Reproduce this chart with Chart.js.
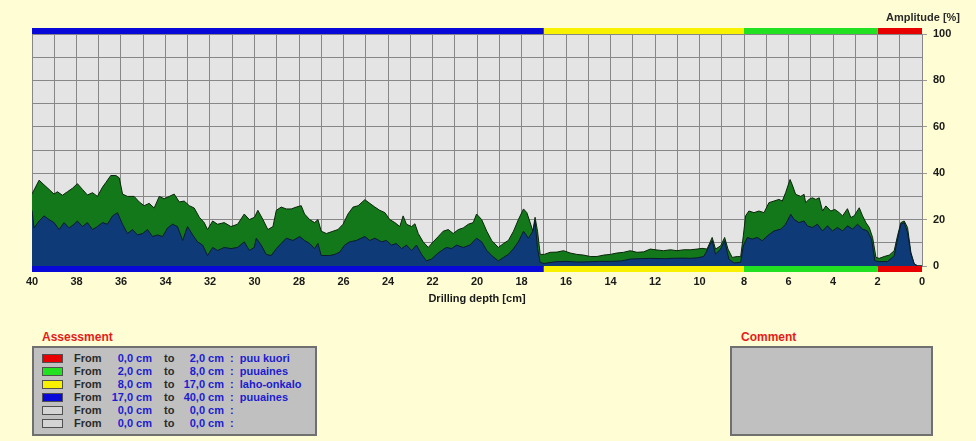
<!DOCTYPE html>
<html>
<head>
<meta charset="utf-8">
<script src="https://cdn.jsdelivr.net/npm/chart.js@4.4.0/dist/chart.umd.min.js"></script>
<style>
  body { margin: 0; background: #fffdd3; font-family: "Liberation Sans", Arial, sans-serif; }
  #wrap { position: relative; width: 976px; height: 441px; overflow: hidden; }
  #chart { position: absolute; left: 0; top: 0; }
  .txt { position: absolute; font-weight: bold; font-size: 11px; line-height: 13px; white-space: nowrap; }
  .head { position: absolute; color: #e51b1b; font-weight: bold; font-size: 12px; line-height: 14px; }
  .box { position: absolute; background: #c0c0c0; border: 2px solid #707070; box-sizing: border-box; }
  .sw { position: absolute; width: 21px; height: 9px; border: 1px solid #505050; box-sizing: border-box; }
  .num { color: #1c1ccf; text-align: right; }
  .dark { color: #2a2a2a; }
</style>
</head>
<body>
<div id="wrap">
  <canvas id="chart" width="976" height="316"></canvas>
  <div class="txt dark" style="left:860px; top:11px; width:100px; text-align:right;">Amplitude [%]</div>
  <div class="head" style="left:42px; top:330px;">Assessment</div>
  <div class="box" style="left:32px; top:346px; width:285px; height:90px;"></div>
  <div id="rows"></div>
  <div class="head" style="left:741px; top:330px;">Comment</div>
  <div class="box" style="left:730px; top:346px; width:203px; height:90px;"></div>
</div>
<script>
// Green curve (upper amplitude)
const greenDepth = [40, 39.68, 39.46, 39.23, 39.01, 38.86, 38.63, 38.41, 38.18, 37.96, 37.73, 37.51, 37.28, 37.06, 36.83, 36.68, 36.46, 36.23, 36.08, 35.93,
    35.71, 35.41, 35.18, 34.96, 34.73, 34.51, 34.28, 34.06, 33.83, 33.61, 33.38, 33.16, 32.93, 32.71, 32.48, 32.26, 32.11, 31.88, 31.66, 31.36,
    31.06, 30.76, 30.46, 30.23, 30.0, 29.85, 29.62, 29.40, 29.17, 29.02, 28.80, 28.57, 28.35, 28.12, 27.90, 27.75, 27.52, 27.30, 27.15, 27.0,
    26.77, 26.47, 26.25, 26.02, 25.80, 25.57, 25.34, 25.04, 24.82, 24.59, 24.37, 24.14, 23.92, 23.69, 23.47, 23.32, 23.17, 22.94, 22.79, 22.64,
    22.42, 22.19, 21.97, 21.74, 21.52, 21.29, 21.07, 20.84, 20.62, 20.39, 20.17, 20.02, 19.79, 19.56, 19.34, 19.04, 18.81, 18.59, 18.36, 18.14,
    17.91, 17.76, 17.61, 17.49, 17.39, 17.28, 17.16, 16.98, 16.71, 16.41, 16.11, 15.81, 15.51, 15.21, 14.91, 14.61, 14.31, 14.01, 13.71, 13.41,
    13.11, 12.81, 12.51, 12.21, 11.91, 11.61, 11.31, 11.01, 10.71, 10.41, 10.11, 9.88, 9.66, 9.43, 9.28, 9.05, 8.87, 8.72, 8.53, 8.30,
    8.15, 8.03, 7.93, 7.78, 7.55, 7.33, 7.10, 6.88, 6.65, 6.43, 6.28, 6.13, 5.93, 5.83, 5.68, 5.45, 5.30, 5.23, 5.08, 4.93,
    4.77, 4.62, 4.47, 4.32, 4.10, 3.92, 3.72, 3.57, 3.35, 3.20, 3.05, 2.82, 2.67, 2.52, 2.37, 2.22, 2.07, 1.92, 1.70, 1.47,
    1.25, 1.10, 0.95, 0.80, 0.65, 0.50, 0.35, 0.20, 0];
const greenAmp = [31, 37, 35, 33, 31, 32, 30.5, 32, 33.5, 35.5, 33, 30.6, 31.6, 30, 34, 36, 39, 39, 38, 31,
    30, 30, 27.6, 26, 27, 25, 30, 29, 30, 31, 27.6, 28, 26, 25, 21, 18.7, 15.7, 19.4, 18, 18.7,
    17, 18, 22.4, 20, 21, 24, 20, 15.7, 17, 24, 25.4, 24.6, 24.6, 25.4, 26, 22.4, 20, 18.7, 20, 15,
    14, 15, 15.7, 18, 22.4, 25.4, 26, 28.6, 27, 25.4, 24, 23, 20, 18.7, 17, 21.6, 18, 17, 18.2, 14,
    10.4, 8, 10.4, 12.7, 15, 15.7, 14, 15.7, 16.4, 18, 18.7, 22.4, 20, 15, 11, 8, 9.7, 11, 15, 20,
    24.6, 23, 18.7, 15, 21, 15, 5, 5, 5.9, 6, 6.6, 5.6, 5, 4.7, 4.1, 4.1, 4.7, 5, 5.6, 5.9,
    6.6, 5.9, 6.1, 7.3, 6.9, 6.6, 7, 6.6, 7, 7, 7.3, 7.6, 7.3, 12.3, 7.3, 8.7, 12.3, 7.3, 3.7, 4.1,
    4, 13, 21.6, 23.7, 23, 23.7, 23, 27.3, 28, 28.7, 28, 31.6, 37.3, 35, 30.9, 30, 30.9, 27.3, 28.7, 29.4,
    28.7, 29.4, 23.7, 25.9, 23.7, 24.4, 23, 21.6, 24.7, 20.9, 21.6, 25.1, 21.6, 18.7, 16.6, 12.3, 3.7, 3.3, 4.1, 4.7,
    6.6, 13, 18.7, 19.4, 16.6, 5.9, 0.9, 0.1, 0];

// Blue curve (lower amplitude)
const blueDepth = [40, 39.91, 39.68, 39.46, 39.23, 39.01, 38.78, 38.56, 38.33, 38.11, 37.96, 37.73, 37.51, 37.28, 37.06, 36.83, 36.61, 36.38, 36.16, 35.93,
    35.71, 35.48, 35.26, 35.03, 34.81, 34.58, 34.36, 34.13, 33.91, 33.68, 33.46, 33.23, 33.01, 32.78, 32.56, 32.33, 32.11, 31.88, 31.66, 31.36,
    31.06, 30.76, 30.46, 30.23, 30.01, 29.92, 29.70, 29.47, 29.25, 29.02, 28.80, 28.57, 28.27, 27.97, 27.75, 27.52, 27.30, 27.15, 27.0, 26.62,
    26.39, 26.17, 25.95, 25.72, 25.42, 25.04, 24.82, 24.59, 24.29, 24.07, 23.84, 23.62, 23.39, 23.17, 22.94, 22.72, 22.49, 22.27, 22.04, 21.82,
    21.59, 21.37, 21.14, 20.92, 20.62, 20.32, 20.02, 19.79, 19.56, 19.34, 19.04, 18.81, 18.59, 18.36, 18.14, 17.91, 17.69, 17.49, 17.39, 17.28,
    17.16, 16.98, 16.5, 16.0, 15.5, 15.0, 14.5, 14.0, 13.5, 13.11, 12.5, 12.21, 11.5, 11.31, 10.71, 10.41, 10.11, 9.81, 9.43, 9.28,
    9.05, 8.87, 8.68, 8.45, 8.15, 8.03, 7.85, 7.63, 7.40, 7.18, 6.95, 6.65, 6.35, 6.13, 5.90, 5.75, 5.53, 5.30, 5.15, 4.93,
    4.70, 4.47, 4.25, 4.02, 3.80, 3.57, 3.35, 3.12, 2.90, 2.67, 2.45, 2.27, 2.12, 1.92, 1.55, 1.25, 1.10, 0.95, 0.80, 0.65,
    0.50, 0.35, 0.20, 0];
const blueAmp = [24, 16.4, 19.4, 21.6, 20, 18.7, 15.7, 18.7, 16.4, 18, 19.4, 17, 18.7, 15.7, 17, 18.7, 18, 21.6, 23, 18,
    14, 15.7, 13.4, 14, 15.7, 12.7, 13.4, 12.7, 16.4, 18, 17, 11, 17, 13.4, 10.4, 9, 4.5, 8, 6.7, 8,
    7.5, 8, 10.4, 6.7, 8, 12, 9, 5, 4.5, 7.5, 9.7, 12, 11, 12.7, 11, 9.7, 7.5, 9.7, 4.5, 4.5,
    5, 6, 9, 10.4, 11, 12.7, 11, 12, 10.4, 11, 9, 9.7, 7.5, 9, 6.7, 9, 5, 2.2, 3, 5,
    6.7, 8, 7.5, 9, 8, 9, 12, 10.4, 6.7, 4.5, 2.2, 3.7, 5, 7.5, 10.4, 15, 12, 15, 19.4, 7.5,
    1.5, 1.1, 1.8, 2, 1.7, 1.8, 2, 2, 2.2, 3, 3.2, 3.3, 3.1, 3.3, 3.4, 3.3, 3.5, 4.1, 10.9, 5.1,
    7.3, 10.9, 3, 1.3, 1.6, 8.7, 12.3, 11.6, 12.3, 10.9, 13, 15.1, 15.9, 18, 22.3, 20.1, 18.7, 19.4, 17.3, 16.6,
    18, 15.1, 17.3, 15.1, 16.6, 15.1, 17.3, 15.9, 18, 15.9, 15.1, 11.6, 2.3, 1.9, 1.9, 4.4, 11.6, 18, 18.7, 14.4,
    5.1, 0.9, 0, 0];

// Assessment zones (cm)
const zoneFrom = [0, 2, 8, 17, 0, 0];
const zoneTo = [2, 8, 17, 40, 0, 0];
const zoneName = ['puu kuori', 'puuaines', 'laho-onkalo', 'puuaines', '', ''];
const zoneColors = ['#e80000', '#22e022', '#f8f200', '#0808d8', '#d4d4d4', '#d4d4d4'];

const toPoints = (d, a) => d.map((x, i) => ({ x: x, y: a[i] }));
const fmt = v => v.toFixed(1).replace('.', ',') + ' cm';
const tickFont = { family: 'Liberation Sans', size: 11, weight: 'bold' };

// Assessment rows
const rows = document.getElementById('rows');
zoneFrom.forEach((f, i) => {
    const top = 352 + i * 13;
    rows.innerHTML +=
        `<div class="sw" style="left:42px; top:${top + 2}px; background:${zoneColors[i]}"></div>` +
        `<div class="txt dark" style="left:74px; top:${top}px;">From</div>` +
        `<div class="txt num" style="left:100px; width:52px; top:${top}px;">${fmt(f)}</div>` +
        `<div class="txt dark" style="left:164px; top:${top}px;">to</div>` +
        `<div class="txt num" style="left:170px; width:54px; top:${top}px;">${fmt(zoneTo[i])}</div>` +
        `<div class="txt num" style="left:230px; top:${top}px; text-align:left;">:&nbsp;&nbsp;${zoneName[i]}</div>`;
});

const plotBg = {
    id: 'plotBg',
    beforeDraw(chart) {
        const { ctx, chartArea: a } = chart;
        ctx.save();
        ctx.fillStyle = '#e4e4e4';
        ctx.fillRect(a.left, a.top, a.right - a.left, a.bottom - a.top);
        ctx.restore();
    }
};

// colored zone strips above and below the plot
const zoneBars = {
    id: 'zoneBars',
    afterDraw(chart) {
        const { ctx, chartArea: a, scales: { x } } = chart;
        ctx.save();
        zoneFrom.forEach((f, i) => {
            if (zoneTo[i] <= f) return;
            const x1 = x.getPixelForValue(zoneTo[i]);
            const x2 = x.getPixelForValue(f);
            ctx.fillStyle = zoneColors[i];
            ctx.fillRect(x1, a.top - 6, x2 - x1, 6);
            ctx.fillRect(x1, a.bottom, x2 - x1, 6);
        });
        ctx.restore();
    }
};

new Chart(document.getElementById('chart'), {
    type: 'line',
    data: {
        datasets: [{
            label: 'Lower',
            data: toPoints(blueDepth, blueAmp),
            backgroundColor: '#0e3b78',
            borderColor: '#0a1a30',
            borderWidth: 1,
            fill: 'origin',
            pointRadius: 0
        }, {
            label: 'Upper',
            data: toPoints(greenDepth, greenAmp),
            backgroundColor: '#12781a',
            borderColor: '#0b260b',
            borderWidth: 1,
            fill: 'origin',
            pointRadius: 0
        }]
    },
    options: {
        responsive: false,
        animation: false,
        layout: { padding: { left: 32, top: 34, right: 0, bottom: 0 } },
        plugins: {
            legend: { display: false },
            tooltip: { enabled: false }
        },
        scales: {
            x: {
                type: 'linear',
                reverse: true,
                min: 0,
                max: 40,
                ticks: {
                    stepSize: 1,
                    autoSkip: false,
                    maxRotation: 0,
                    padding: 9,
                    color: '#1a1a1a',
                    font: tickFont,
                    callback: v => (v % 2 === 0 ? v : '')
                },
                grid: { color: '#878787', drawTicks: false },
                border: { display: false },
                title: {
                    display: true,
                    text: 'Drilling depth [cm]',
                    color: '#1a1a1a',
                    font: tickFont,
                    padding: { top: 0, bottom: 10 }
                },
                afterFit: s => { s.height = 50; }
            },
            y: {
                position: 'right',
                min: 0,
                max: 100,
                ticks: {
                    stepSize: 10,
                    padding: 6,
                    color: '#1a1a1a',
                    font: tickFont,
                    callback: v => (v % 20 === 0 ? v : '')
                },
                grid: {
                    color: '#878787',
                    tickLength: 5,
                    tickColor: c => (c.tick && c.tick.value % 20 === 0 ? '#999' : 'rgba(0,0,0,0)')
                },
                border: { color: '#878787' },
                afterFit: s => { s.width = 54; }
            }
        }
    },
    plugins: [plotBg, zoneBars]
});
</script>
</body>
</html>
